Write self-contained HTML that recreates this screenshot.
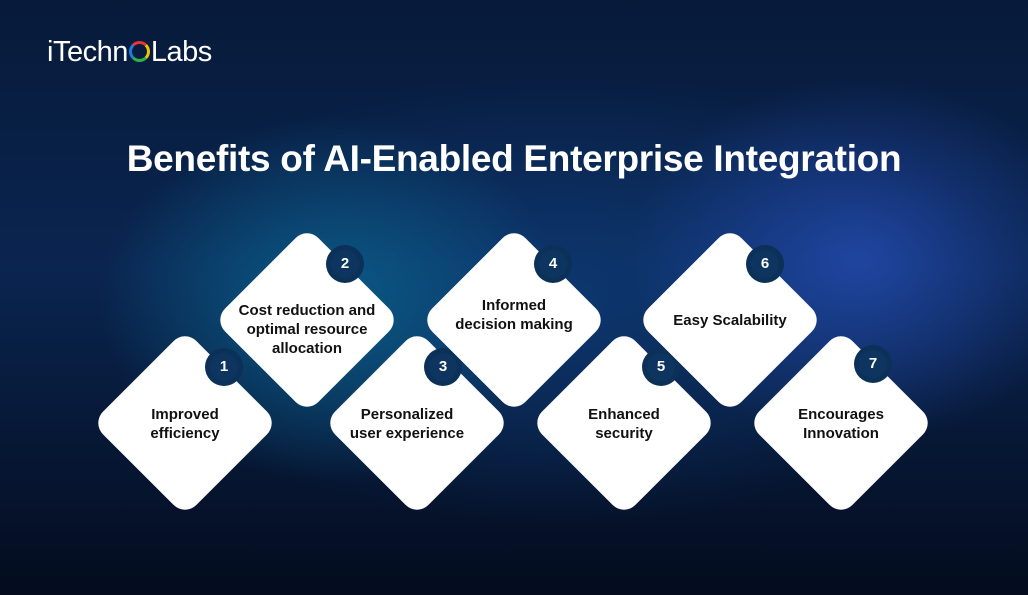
<!DOCTYPE html>
<html><head><style>
body{margin:0;width:1028px;height:595px;overflow:hidden;font-family:"Liberation Sans",sans-serif;
background:
radial-gradient(ellipse 330px 260px at 330px 300px,rgba(10,110,150,.7),transparent 70%),
radial-gradient(ellipse 330px 260px at 860px 260px,rgba(40,80,190,.7),transparent 70%),
radial-gradient(ellipse 600px 300px at 560px 300px,rgba(14,60,120,.8),transparent 75%),
linear-gradient(180deg,#071a3a 0%,#0a2550 45%,#061530 80%,#040c1e 100%);position:relative}
.logo{position:absolute;left:47px;top:36px;color:#fff;font-size:29px;letter-spacing:-0.5px}
.o{display:inline-block;border-radius:50%;border:3px solid;border-color:#e33 #f5c400 #2db34a #1e7be0;vertical-align:-1px;margin:0 1px;box-sizing:border-box;width:21px;height:21px}
h1{position:absolute;top:138px;left:0;width:1028px;text-align:center;margin:0;color:#fff;font-size:37px;font-weight:bold;letter-spacing:-0.3px}
.d{position:absolute;width:132px;height:132px;background:#fff;border-radius:16px;transform:rotate(45deg)}
.t{position:absolute;width:170px;text-align:center;font-weight:bold;font-size:15px;line-height:19px;color:#111}
.b{position:absolute;width:28px;height:28px;border-radius:50%;background:#0e3560;color:#fff;font-weight:bold;font-size:15px;line-height:28px;text-align:center;box-shadow:0 0 0 5px #0b3158}
</style></head><body>
<div class="logo">iTechn<span class="o"></span>Labs</div>
<h1>Benefits of AI-Enabled Enterprise Integration</h1>

<div class="d" style="left:119px;top:357px"></div>
<div class="t" style="left:100px;top:405px">Improved<br>efficiency</div>
<div class="b" style="left:210px;top:353px">1</div>

<div class="d" style="left:241px;top:254px"></div>
<div class="t" style="left:222px;top:301px">Cost reduction and<br>optimal resource<br>allocation</div>
<div class="b" style="left:331px;top:250px">2</div>

<div class="d" style="left:351px;top:357px"></div>
<div class="t" style="left:322px;top:405px">Personalized<br>user experience</div>
<div class="b" style="left:429px;top:353px">3</div>

<div class="d" style="left:448px;top:254px"></div>
<div class="t" style="left:429px;top:296px">Informed<br>decision making</div>
<div class="b" style="left:539px;top:250px">4</div>

<div class="d" style="left:558px;top:357px"></div>
<div class="t" style="left:539px;top:405px">Enhanced<br>security</div>
<div class="b" style="left:647px;top:353px">5</div>

<div class="d" style="left:664px;top:254px"></div>
<div class="t" style="left:645px;top:311px">Easy Scalability</div>
<div class="b" style="left:751px;top:250px">6</div>

<div class="d" style="left:775px;top:357px"></div>
<div class="t" style="left:756px;top:405px">Encourages<br>Innovation</div>
<div class="b" style="left:859px;top:350px">7</div>
</body></html>
